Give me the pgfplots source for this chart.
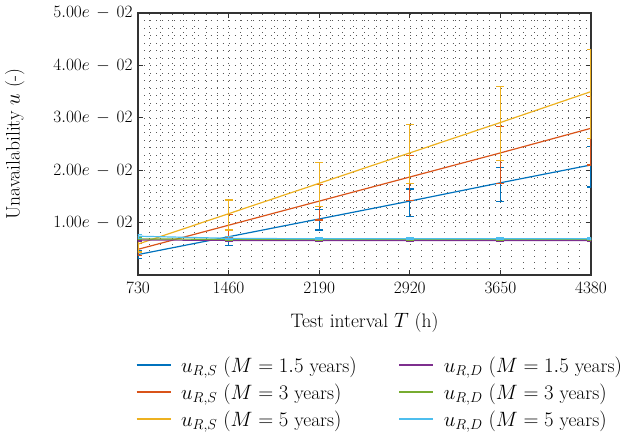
\documentclass[border=0pt]{standalone}
\usepackage{pgfplots}
\pgfplotsset{compat=1.18}
\usepackage{pgfplotstable}
\usetikzlibrary{calc}

\definecolor{mblue}{rgb}{0,0.447,0.741}
\definecolor{mred}{rgb}{0.850,0.325,0.098}
\definecolor{myel}{rgb}{0.929,0.694,0.125}
\definecolor{mpur}{rgb}{0.494,0.184,0.556}
\definecolor{mgrn}{rgb}{0.466,0.674,0.188}
\definecolor{mcyan}{rgb}{0.301,0.745,0.933}

% u_{R,S}: value, error plus, error minus
\pgfplotstableread{
T    u       ep      em
730  0.0039  0.0007  0.0008
1460 0.0073  0.0013  0.0016
2190 0.0107  0.0018  0.0021
2920 0.0141  0.0023  0.0029
3650 0.0176  0.0029  0.0036
4380 0.0210  0.0035  0.0042
}\sAa
\pgfplotstableread{
T    u       ep      em
730  0.0049  0.0011  0.0012
1460 0.0095  0.0020  0.0024
2190 0.0141  0.0031  0.0036
2920 0.0187  0.0041  0.0045
3650 0.0233  0.0050  0.0058
4380 0.0280  0.0060  0.0070
}\sBb
\pgfplotstableread{
T    u       ep      em
730  0.0059  0.0014  0.0015
1460 0.0117  0.0026  0.0031
2190 0.0175  0.0039  0.0045
2920 0.0233  0.0054  0.0058
3650 0.0291  0.0068  0.0073
4380 0.0350  0.0080  0.0089
}\sCc
% u_{R,D}
\pgfplotstableread{
T    u       ep      em
730  0.0067  0.0002  0.0002
1460 0.0066  0.0002  0.0002
2190 0.0066  0.0002  0.0002
2920 0.0066  0.0002  0.0002
3650 0.0066  0.0002  0.0002
4380 0.0066  0.0002  0.0002
}\dAa
\pgfplotstableread{
T    u       ep      em
730  0.0069  0.0002  0.0002
1460 0.0068  0.0002  0.0002
2190 0.0068  0.0002  0.0002
2920 0.0068  0.0002  0.0002
3650 0.0068  0.0002  0.0002
4380 0.0068  0.0002  0.0002
}\dBb
\pgfplotstableread{
T    u       ep      em
730  0.0074  0.0004  0.0004
1460 0.0070  0.0003  0.0003
2190 0.0069  0.0002  0.0002
2920 0.0069  0.0002  0.0002
3650 0.0069  0.0002  0.0002
4380 0.0069  0.0002  0.0002
}\dCc

\newcommand{\yl}[2]{$#1e\,-\,#2$}

\begin{document}
\begin{tikzpicture}
\pgfplotsset{ll/.style={legend image code/.code={\draw[##1, line width=1.2pt] (0pt,0pt) -- (34pt,0pt); \path (42pt,0pt);}}}
\begin{axis}[
  name=ax,
  scale only axis,
  width=453pt, height=262pt,
  xmin=730, xmax=4380,
  ymin=0, ymax=0.05,
  xtick={730,1460,2190,2920,3650,4380},
  ytick={0.01,0.02,0.03,0.04,0.05},
  yticklabels={\yl{1.00}{02},\yl{2.00}{02},\yl{3.00}{02},\yl{4.00}{02},\yl{5.00}{02}},
  scaled y ticks=false,
  xticklabel style={/pgf/number format/1000 sep={}, yshift=-4pt},
  yticklabel style={xshift=-2pt},
  minor x tick num=7,
  minor y tick num=6,
  tick align=inside,
  major tick length=5pt,
  minor tick length=0pt,
  grid=both,
  major grid style={black!65, line width=0.55pt, dash pattern=on 0.55pt off 5.5pt},
  minor grid style={black!65, line width=0.55pt, dash pattern=on 0.55pt off 5.5pt},
  axis line style={line width=1.1pt, black!80},
  tick style={black!80, line width=0.9pt},
  ticklabel style={font=\fontsize{19}{23}\selectfont},
  label style={font=\fontsize{19.5}{23}\selectfont},
  xlabel={Test interval $T$ (h)},
  ylabel={Unavailability $u$ (-)},
  xlabel style={at={(axis description cs:0.5,-0.183)}, anchor=center},
  ylabel style={at={(axis description cs:-0.272,0.5)}, anchor=center},
  every axis plot/.append style={line width=1.2pt},
  error bars/y dir=both,
  error bars/y explicit,
  error bars/error bar style={line width=1.2pt},
  error bars/error mark options={rotate=90, mark size=4pt, line width=1.2pt},
  legend style={at={(axis description cs:0.534,-0.295)}, anchor=north, draw=none, fill=none,
    font=\fontsize{19.5}{23}\selectfont, legend columns=2,
    /tikz/every even column/.style={column sep=40pt},
    row sep=6pt},
  legend cell align=left,
]
\addplot[mblue, forget plot] table[x=T, y=u, y error plus=ep, y error minus=em] {\sAa};
\addplot[mred, forget plot] table[x=T, y=u, y error plus=ep, y error minus=em] {\sBb};
\addplot[myel, forget plot] table[x=T, y=u, y error plus=ep, y error minus=em] {\sCc};
\addplot[mpur, forget plot] table[x=T, y=u, y error plus=ep, y error minus=em] {\dAa};
\addplot[mgrn, forget plot] table[x=T, y=u, y error plus=ep, y error minus=em] {\dBb};
\addplot[mcyan, forget plot] table[x=T, y=u, y error plus=ep, y error minus=em] {\dCc};

\addlegendimage{ll, color=mblue}
\addlegendentry{$u_{R,S}$ $(M = 1.5$ years$)$}
\addlegendimage{ll, color=mpur}
\addlegendentry{$u_{R,D}$ $(M = 1.5$ years$)$}
\addlegendimage{ll, color=mred}
\addlegendentry{$u_{R,S}$ $(M = 3$ years$)$}
\addlegendimage{ll, color=mgrn}
\addlegendentry{$u_{R,D}$ $(M = 3$ years$)$}
\addlegendimage{ll, color=myel}
\addlegendentry{$u_{R,S}$ $(M = 5$ years$)$}
\addlegendimage{ll, color=mcyan}
\addlegendentry{$u_{R,D}$ $(M = 5$ years$)$}
\end{axis}
\pgfresetboundingbox
\useasboundingbox ($(ax.south west)+(-138pt,-166pt)$) rectangle ($(ax.north east)+(35pt,13pt)$);
\end{tikzpicture}
\end{document}
